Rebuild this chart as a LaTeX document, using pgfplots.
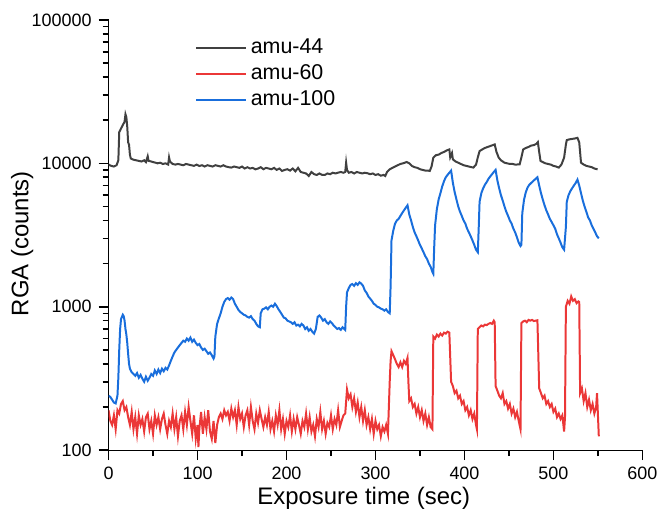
\documentclass[border=0pt]{standalone}
\usepackage{pgfplots}
\pgfplotsset{compat=1.18}
\usepackage{fontspec}
\setmainfont{Liberation Sans}
\definecolor{c44}{RGB}{64,64,64}
\definecolor{c60}{RGB}{235,55,55}
\definecolor{c100}{RGB}{25,110,220}
\begin{document}
\begin{tikzpicture}
\begin{axis}[
    scale only axis, width=268pt, height=216pt,
    ymode=log,
    xmin=0, xmax=600, ymin=100, ymax=100000,
    axis x line*=bottom, axis y line*=left,
    xtick align=outside, ytick align=outside,
    major tick length=5pt, minor tick length=3pt,
    every tick/.append style={black, line width=0.8pt},
    xtick={0,100,200,300,400,500,600},
    xticklabels={0,100,200,300,400,500,600},
    minor x tick num=1,
    ytick={100,1000,10000,100000},
    yticklabels={100,1000,10000,100000},
    tick label style={font=\fontsize{9}{10}\selectfont},
    xlabel={Exposure time (sec)},
    ylabel={RGA (counts)},
    label style={font=\fontsize{12}{14}\selectfont},
    xlabel style={at={(axis description cs:0.478,-0.111)}, anchor=center},
    ylabel style={at={(axis description cs:-0.162,0.48)}, anchor=center},
    legend style={at={(axis description cs:0.15,0.975)}, anchor=north west,
        draw=none, fill=none, font=\fontsize{10.75}{12}\selectfont, row sep=0pt},
    legend cell align=left,
    legend image code/.code={\draw[#1] (0pt,0pt) -- (25pt,0pt);},
    every axis plot/.append style={line width=1pt, mark=none},
]
% amu-44
\addplot[c44] coordinates {
(0,9800) (3,9600) (6,9500) (9,9700) (11,10500) (12,16500) (14,17500) (16,18500) (18,19500) (19,22000) (20,21000) (21,18000) (22,14000) (23,13500) (24,11500) (25,10800) (28,10600) (31,10500) (34,10400) (37,10300) (40,10500) (42,10200) (44,11200) (45,10400) (48,10300) (50,10200) (53,10100) (55,10000) (58,10100) (61,9900) (64,10000) (67,9800) (68,11000) (69,10300) (72,9900) (75,9800) (78,9900) (81,9800) (84,9700) (87,9900) (90,9800) (93,9700) (96,9600) (99,9800) (102,9580) (105,9700) (108,9500) (111,9700) (114,9600) (117,9500) (120,9700) (123,9600) (126,9500) (129,9700) (132,9500) (135,9400) (138,9340) (141,9500) (144,9400) (147,9300) (150,9500) (153,9200) (156,9400) (159,9200) (162,9300) (165,9080) (168,9200) (171,9400) (174,9100) (177,9300) (180,9200) (183,9100) (186,9300) (189,9000) (192,9200) (195,8850) (198,9000) (201,9100) (204,8900) (207,9200) (210,8800) (213,9300) (216,8700) (219,8600) (222,8500) (225,8160) (228,8700) (231,8400) (234,8300) (237,8500) (240,8300) (243,8300) (246,8500) (249,8400) (252,8600) (255,8500) (258,8610) (261,8700) (264,8600) (266,8700) (267,10100) (268,9000) (270,8600) (273,8700) (276,8500) (279,8700) (282,8600) (285,8500) (288,8600) (291,8530) (294,8400) (297,8500) (300,8300) (303,8400) (306,8200) (309,8300) (311,8160) (313,8700) (316,9080) (319,9300) (322,9500) (325,9700) (328,9900) (331,10000) (335,10210) (338,10000) (341,9580) (344,9400) (347,9300) (350,9100) (353,9000) (356,8900) (359,8900) (361,8850) (363,9500) (365,10960) (368,11400) (371,11500) (374,11800) (377,12000) (380,12300) (383,12500) (384,11000) (386,11800) (387,10660) (390,10300) (393,10100) (396,9900) (399,9700) (402,9600) (405,9500) (408,9400) (410,9340) (413,9800) (415,11000) (417,12170) (420,12500) (423,12800) (426,13000) (429,13200) (432,13400) (434,13550) (436,12000) (438.5,10960) (441,10500) (443,10300) (445,10100) (448,10000) (451,9900) (454,9900) (457,9800) (460,9820) (462,9820) (464,11000) (466,12500) (469,12800) (472,13000) (475,13300) (478,13400) (481,13700) (482.5,14060) (484,12000) (485.5,10380) (488,10200) (491,10000) (494,9900) (497,9800) (500,9600) (503,9500) (506,9340) (509,9800) (512,10960) (514,13500) (515,14520) (518,14700) (521,14800) (524,14900) (527,15060) (529,14000) (531,10100) (534,9800) (537,9600) (540,9500) (543,9400) (546,9200) (549.6,9080)
};
\addlegendentry{amu-44}
% amu-60
\addplot[c60] coordinates {
(0,190) (2,160) (4,150) (6,175) (8,140) (10,190) (12,180) (14,210) (16,220) (18,190) (20,200) (22,170) (24,150) (26,185) (28,140) (30,170) (32,130) (34,175) (36,150) (38,165) (40,135) (42,170) (44,180) (46,140) (48,160) (50,130) (52,175) (54,150) (56,170) (58,140) (60,165) (62,180) (64,150) (66,130) (68,160) (70,145) (72,180) (74,140) (76,170) (78,125) (80,160) (82,175) (84,140) (86,185) (88,150) (90,200) (92,160) (94,130) (96,175) (98,120) (100,150) (101,105) (102,140) (104,185) (106,130) (108,170) (110,140) (112,190) (114,135) (116,120) (118,160) (120,112) (122,150) (124,170) (126,180) (128,165) (130,190) (132,175) (134,185) (136,160) (138,195) (140,170) (142,190) (144,150) (146,200) (148,165) (150,180) (152,145) (154,175) (156,190) (158,150) (160,200) (162,160) (164,140) (166,180) (168,155) (170,190) (172,165) (174,145) (176,170) (178,150) (180,185) (182,140) (184,160) (186,135) (188,175) (190,150) (192,190) (194,140) (196,165) (198,130) (200,160) (202,145) (204,175) (206,135) (208,165) (210,140) (212,170) (214,150) (216,130) (218,160) (220,145) (222,180) (224,140) (226,170) (228,135) (230,150) (232,125) (234,165) (236,145) (238,185) (240,140) (242,160) (244,130) (246,155) (248,145) (250,175) (252,140) (254,165) (256,150) (258,190) (260,145) (262,160) (264,175) (266,180) (268,265) (270,230) (272,245) (274,200) (276,230) (278,185) (280,215) (282,170) (284,200) (286,160) (288,190) (290,150) (292,170) (294,140) (296,165) (298,130) (300,160) (302,140) (304,150) (306,125) (308,145) (310,135) (312,150) (314,130) (316,300) (317,420) (318,490) (320,460) (322,430) (324,400) (326,380) (328,410) (330,380) (332,420) (334,400) (336,440) (337,300) (338,220) (340,230) (342,200) (344,210) (346,180) (348,200) (350,170) (352,190) (354,160) (356,180) (358,150) (360,170) (362,145) (364,140) (365,620) (367,600) (369,640) (371,620) (373,650) (375,630) (377,660) (379,650) (381,670) (383,660) (385,300) (387,280) (389,250) (391,260) (393,230) (395,240) (397,210) (399,220) (401,190) (403,200) (405,175) (407,190) (409,165) (411,180) (413,150) (414,140) (415,700) (417,720) (419,740) (421,730) (423,750) (425,745) (427,760) (429,770) (431,760) (433,800) (434,780) (435,280) (437,260) (439,240) (441,230) (443,250) (445,210) (447,220) (449,195) (451,210) (453,180) (455,195) (457,170) (459,185) (461,160) (463,140) (464,770) (466,790) (468,800) (470,780) (472,810) (474,800) (476,810) (478,795) (480,800) (482,805) (484,270) (486,250) (488,230) (490,240) (492,210) (494,220) (496,200) (498,210) (500,185) (502,195) (504,170) (506,180) (508,165) (510,175) (512,135) (513,170) (514,1000) (516,1100) (518,1050) (520,1180) (522,1100) (524,1130) (526,1060) (528,1090) (529,1080) (530,250) (532,270) (534,220) (536,250) (538,200) (540,225) (542,190) (544,210) (546,180) (548,200) (549,250) (551,125)
};
\addlegendentry{amu-60}
% amu-100
\addplot[c100] coordinates {
(0,240) (2,235) (4,225) (6,215) (8,212) (10,240) (11,320) (12,500) (13,700) (14,820) (15,850) (16,880) (17,860) (18,800) (19,700) (20,640) (21,560) (22,470) (23,400) (24,370) (26,350) (28,340) (30,330) (32,345) (34,320) (36,335) (38,315) (40,300) (42,325) (44,305) (46,320) (48,340) (50,330) (52,360) (54,340) (56,365) (58,345) (60,370) (62,355) (64,375) (66,365) (68,390) (70,420) (72,450) (74,480) (76,500) (78,520) (80,540) (82,560) (84,580) (86,570) (88,600) (90,580) (92,610) (94,570) (96,590) (98,560) (100,540) (102,550) (104,520) (106,500) (108,510) (110,490) (112,470) (114,480) (116,460) (118,435) (119,450) (120,620) (122,760) (124,830) (126,900) (128,1000) (130,1080) (132,1130) (134,1150) (136,1120) (138,1160) (140,1130) (142,1050) (144,1000) (146,950) (148,920) (150,900) (152,880) (154,870) (156,850) (158,840) (160,860) (162,820) (164,800) (166,760) (168,730) (170,720) (171,900) (173,960) (175,970) (177,990) (179,960) (181,1000) (183,1020) (185,1000) (187,1050) (189,1010) (191,960) (193,920) (195,880) (197,840) (199,830) (201,800) (203,790) (205,780) (207,760) (209,780) (211,740) (213,750) (215,730) (217,760) (219,740) (221,700) (223,720) (225,680) (227,700) (229,670) (231,650) (233,700) (235,850) (237,870) (239,840) (241,800) (243,820) (245,780) (247,760) (249,790) (251,770) (253,740) (255,720) (257,700) (259,710) (261,690) (263,720) (265,700) (266,690) (267,1000) (268,1260) (270,1350) (272,1420) (274,1440) (276,1400) (278,1460) (280,1420) (282,1480) (284,1450) (286,1400) (288,1300) (290,1250) (292,1180) (294,1140) (296,1100) (298,1050) (300,1030) (302,1000) (304,990) (306,970) (308,960) (310,940) (312,960) (314,920) (316,900) (317,1400) (318,2900) (320,3400) (322,3800) (324,4000) (326,4100) (328,4300) (330,4500) (332,4700) (334,4900) (336,5100) (338,4400) (340,4000) (342,3600) (344,3300) (346,3100) (348,2900) (350,2700) (352,2550) (354,2400) (356,2250) (358,2150) (360,2000) (362,1900) (364,1750) (365,1700) (366,2600) (367,3700) (369,4800) (371,5600) (373,6200) (375,6900) (377,7500) (379,8000) (381,8300) (383,8600) (385,8900) (387,7300) (389,6300) (391,5600) (393,5000) (395,4600) (397,4300) (399,4000) (401,3800) (403,3500) (405,3300) (407,3100) (409,2900) (411,2700) (413,2500) (415,2400) (416,3500) (417,5400) (419,6200) (421,6700) (423,7100) (425,7400) (427,7800) (429,8100) (431,8400) (433,8700) (435,9000) (437,7600) (439,6700) (441,6000) (443,5500) (445,5000) (447,4600) (449,4300) (451,4000) (453,3800) (455,3500) (457,3300) (459,3050) (461,2800) (463,2650) (464,2700) (465,4500) (467,5600) (469,6300) (471,6800) (473,7100) (475,7300) (477,7500) (479,7700) (481,7900) (482,8000) (484,7000) (486,6200) (488,5600) (490,5100) (492,4700) (494,4400) (496,4100) (498,3900) (500,3700) (502,3500) (504,3200) (506,3000) (508,2800) (510,2600) (512,2500) (514,3600) (515,5400) (517,6000) (519,6400) (521,6700) (523,7000) (525,7300) (527,7700) (529,7000) (531,6200) (533,5500) (535,5000) (537,4600) (539,4200) (541,4000) (543,3700) (545,3500) (547,3300) (549,3100) (551,3000)
};
\addlegendentry{amu-100}
\end{axis}
\path (-54.5pt,-34pt) rectangle (277.5pt,226pt);
\end{tikzpicture}
\end{document}
